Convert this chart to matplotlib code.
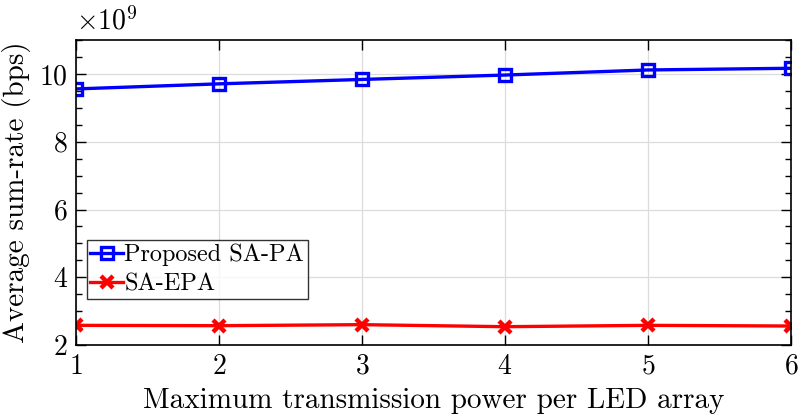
import matplotlib
matplotlib.use("Agg")
import matplotlib.pyplot as plt
from matplotlib.ticker import MultipleLocator, ScalarFormatter

# values
power = [1, 2, 3, 4, 5, 6]
proposed_sapa = [9.56e9, 9.71e9, 9.84e9, 9.97e9, 10.12e9, 10.17e9]
sa_epa = [2.58e9, 2.57e9, 2.60e9, 2.54e9, 2.58e9, 2.56e9]
labels = ["Proposed SA-PA", "SA-EPA"]

plt.rcParams["font.family"] = ["cmr10", "DejaVu Serif"]
plt.rcParams["mathtext.fontset"] = "cm"
plt.rcParams["axes.formatter.use_mathtext"] = True
plt.rcParams["axes.unicode_minus"] = False

fig = plt.figure(figsize=(7.99, 4.17), dpi=100)
ax = fig.add_axes([0.0951, 0.1727, 0.895, 0.731])

ax.plot(power, proposed_sapa, color="blue", lw=2.4, marker="s", ms=9,
        mfc="none", mew=2.4, label=labels[0])
ax.plot(power, sa_epa, color="red", lw=2.4, marker="x", ms=8.5,
        mew=3.2, label=labels[1])

ax.set_xlim(1, 6)
ax.set_ylim(2e9, 11e9)
ax.xaxis.set_major_locator(MultipleLocator(1))
ax.yaxis.set_major_locator(MultipleLocator(2e9))
ax.yaxis.set_minor_locator(MultipleLocator(0.5e9))
fmt = ScalarFormatter(useMathText=True)
fmt.set_powerlimits((9, 9))
ax.yaxis.set_major_formatter(fmt)
ax.yaxis.OFFSETTEXTPAD = 8

ax.grid(True, which="major", color="#dcdcdc", lw=0.9)
ax.set_axisbelow(True)
ax.tick_params(which="both", direction="in", top=True, right=True,
               labelsize=20, width=1, pad=6)
ax.tick_params(which="major", length=7)
ax.tick_params(which="minor", length=4, top=False)
for sp in ax.spines.values():
    sp.set_linewidth(1.2)
ax.yaxis.get_offset_text().set_fontsize(20)

ax.set_xlabel("Maximum transmission power per LED array", fontsize=21, labelpad=6)
ax.set_ylabel("Average sum-rate (bps)", fontsize=21, labelpad=6)

leg = ax.legend(loc="lower left", bbox_to_anchor=(0.015, 0.15), fontsize=17.5,
                frameon=True, fancybox=False, edgecolor="black",
                borderpad=0.15, labelspacing=0.3, handlelength=1.35,
                handletextpad=0.05, borderaxespad=0)
leg.get_frame().set_linewidth(1.0)

fig.savefig("out.png", dpi=100)
